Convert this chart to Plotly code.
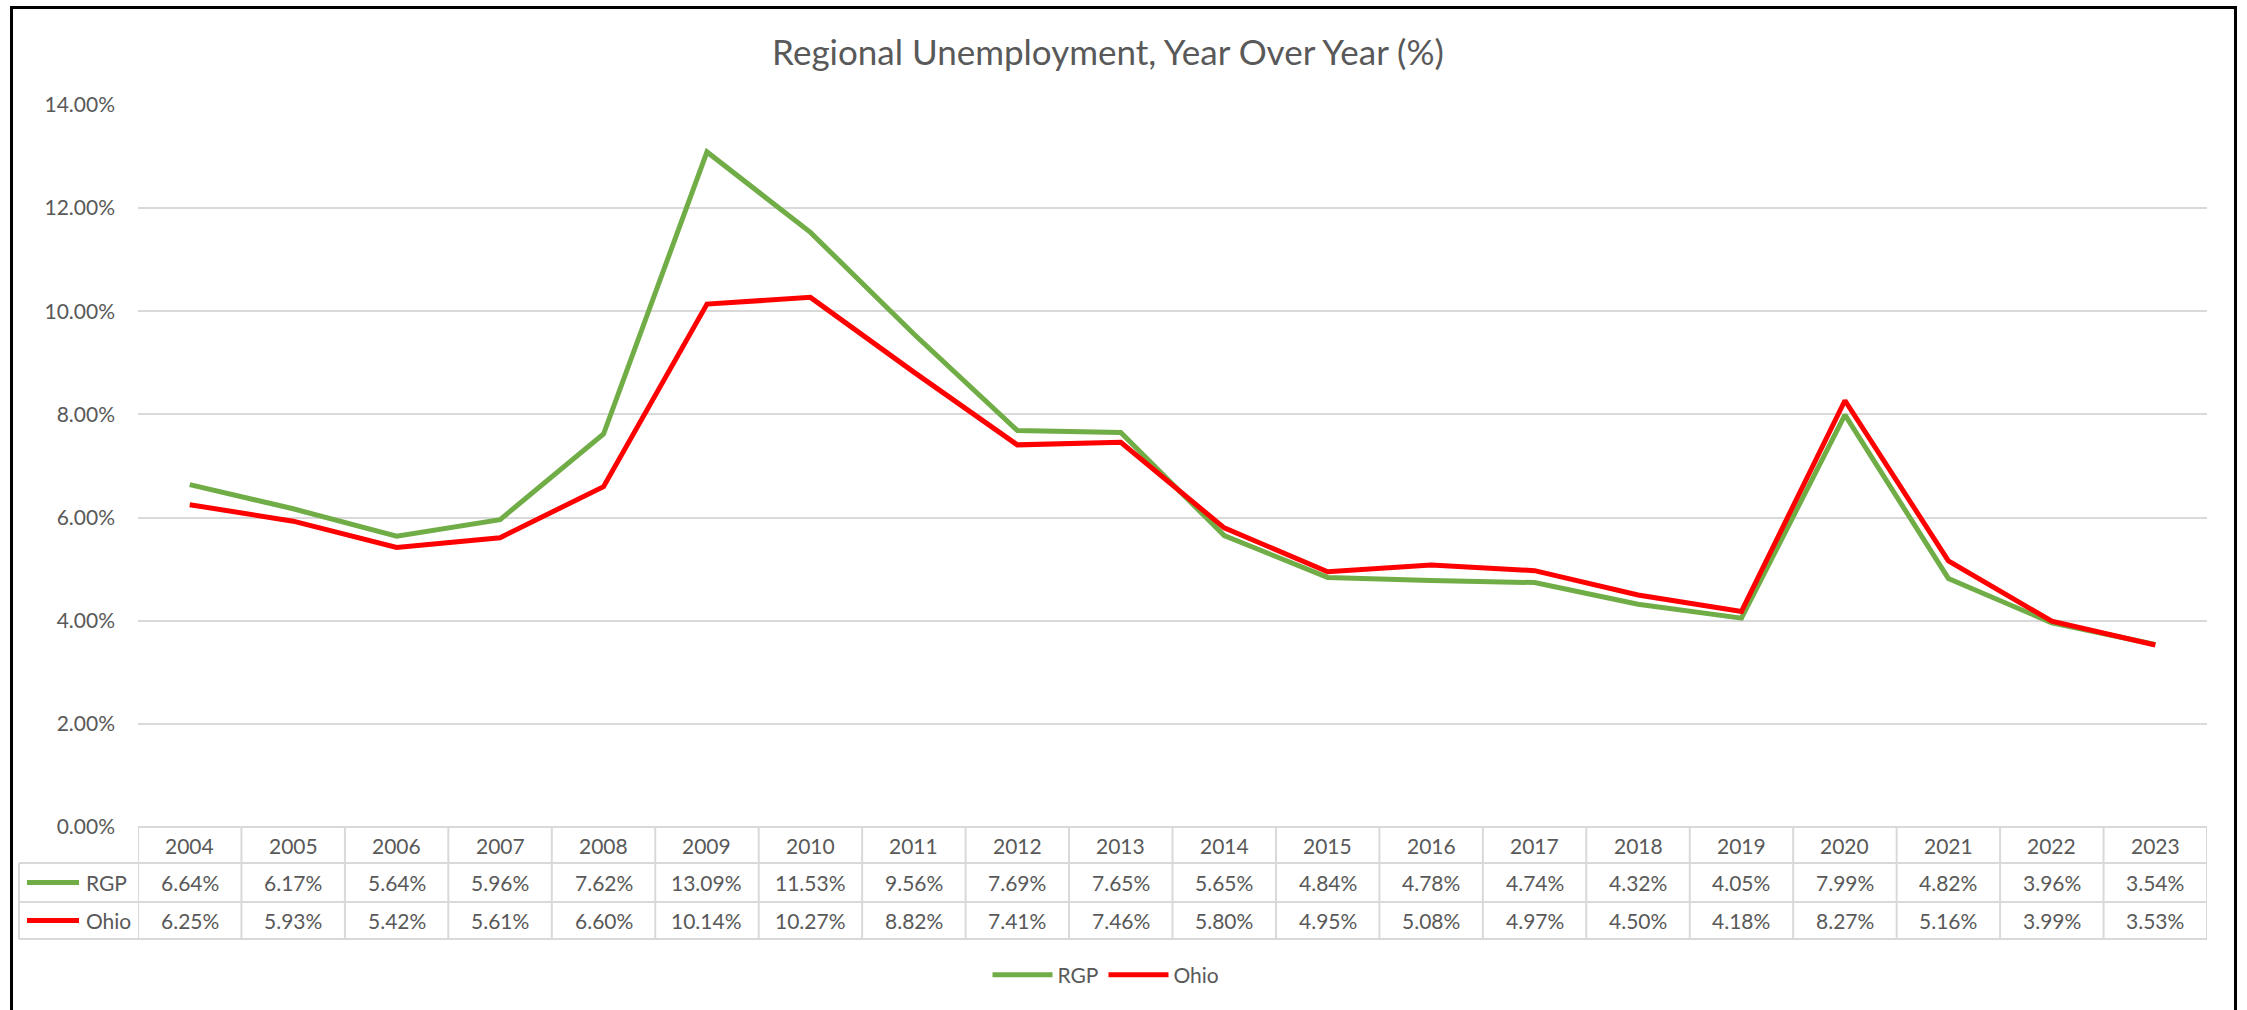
import plotly.graph_objects as go

years = [str(y) for y in range(2004, 2024)]
rgp = [6.64, 6.17, 5.64, 5.96, 7.62, 13.09, 11.53, 9.56, 7.69, 7.65,
       5.65, 4.84, 4.78, 4.74, 4.32, 4.05, 7.99, 4.82, 3.96, 3.54]
ohio = [6.25, 5.93, 5.42, 5.61, 6.60, 10.14, 10.27, 8.82, 7.41, 7.46,
        5.80, 4.95, 5.08, 4.97, 4.50, 4.18, 8.27, 5.16, 3.99, 3.53]
series_names = ["RGP", "Ohio"]
series_colors = ["#70AD47", "#FF0000"]
title_text = "Regional Unemployment, Year Over Year (%)"

W, H = 2247, 1010
L, R, T, B = 138, 2207, 105, 827  # plot area in px
PW, PH = R - L, B - T
FONT = "Lato"
TXT = "#595959"
GRID = "#D9D9D9"


def px_x(px):
    return (px - L) / PW


def px_y(py):
    return (B - py) / PH


xs = list(range(len(years)))
fig = go.Figure()
for name, vals, col in zip(series_names, [rgp, ohio], series_colors):
    fig.add_trace(go.Scatter(x=xs, y=vals, mode="lines", name=name,
                             line=dict(color=col, width=5)))

shapes = []
annotations = []

# table geometry (px)
row_lines = [827, 863, 902, 939]
left_px = 19
row_centers = [(row_lines[i] + row_lines[i + 1]) / 2 for i in range(3)]

for i in range(len(years) + 1):
    shapes.append(dict(type="line", xref="x", yref="paper",
                       x0=i - 0.5, x1=i - 0.5,
                       y0=px_y(row_lines[0]), y1=px_y(row_lines[-1]),
                       line=dict(color=GRID, width=2)))
shapes.append(dict(type="line", xref="paper", yref="paper",
                   x0=px_x(left_px), x1=px_x(left_px),
                   y0=px_y(row_lines[1]), y1=px_y(row_lines[-1]),
                   line=dict(color=GRID, width=2)))
for ry in row_lines[1:]:
    shapes.append(dict(type="line", xref="paper", yref="paper",
                       x0=px_x(left_px), x1=1,
                       y0=px_y(ry), y1=px_y(ry),
                       line=dict(color=GRID, width=2)))

for i, yr in enumerate(years):
    annotations.append(dict(x=i, y=px_y(row_centers[0]), xref="x", yref="paper",
                            text=yr, showarrow=False,
                            font=dict(family=FONT, size=21, color=TXT),
                            xanchor="center", yanchor="middle"))
for r, (name, vals, col) in enumerate(zip(series_names, [rgp, ohio], series_colors)):
    cy = px_y(row_centers[r + 1])
    for i, v in enumerate(vals):
        annotations.append(dict(x=i, y=cy, xref="x", yref="paper",
                                text=f"{v:.2f}%", showarrow=False,
                                font=dict(family=FONT, size=21, color=TXT),
                                xanchor="center", yanchor="middle"))
    shapes.append(dict(type="line", xref="paper", yref="paper",
                       x0=px_x(27), x1=px_x(79), y0=cy, y1=cy,
                       line=dict(color=col, width=5)))
    annotations.append(dict(x=px_x(84), y=cy, xref="paper", yref="paper",
                            text=name, showarrow=False,
                            font=dict(family=FONT, size=21, color=TXT),
                            xanchor="left", yanchor="middle"))

# outer border
shapes.append(dict(type="rect", xref="paper", yref="paper",
                   x0=px_x(11.5), x1=px_x(2235.5), y0=px_y(1030), y1=px_y(7.5),
                   line=dict(color="black", width=3), fillcolor="rgba(0,0,0,0)"))

fig.update_layout(
    width=W, height=H,
    margin=dict(l=L, r=W - R, t=T, b=H - B, pad=0),
    paper_bgcolor="white", plot_bgcolor="white",
    title=dict(text=title_text, x=1108 / W, xref="container", xanchor="center",
               y=1 - 53 / H, yref="container", yanchor="middle",
               font=dict(family=FONT, size=35, color=TXT)),
    xaxis=dict(range=[-0.5, len(years) - 0.5], showticklabels=False,
               showgrid=False, zeroline=False, showline=False, fixedrange=True),
    yaxis=dict(range=[0, 14], dtick=2, tickformat=".2f", ticksuffix="%",
               showgrid=True, gridcolor=GRID, gridwidth=2,
               zeroline=True, zerolinecolor=GRID, zerolinewidth=2,
               showline=False, ticks="", ticklabelstandoff=22,
               tickfont=dict(family=FONT, size=21, color=TXT)),
    showlegend=True,
    legend=dict(orientation="h", x=px_x(1106), xanchor="center",
                y=px_y(975), yanchor="middle", itemwidth=60,
                font=dict(family=FONT, size=21, color=TXT),
                bgcolor="rgba(0,0,0,0)"),
    shapes=shapes, annotations=annotations,
)

fig.write_html("out.html", config={"displayModeBar": False},
               post_script="document.body.style.margin='0';document.body.style.overflow='hidden';")
